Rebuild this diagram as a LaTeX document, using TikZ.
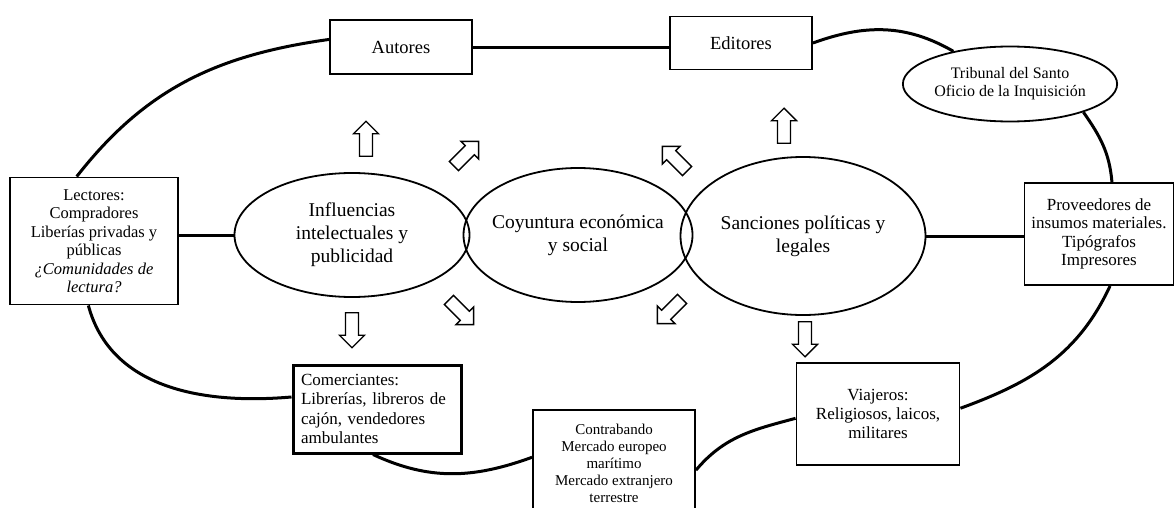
\documentclass[tikz,border=0pt]{standalone}
\usepackage{fontspec}
\setmainfont{Liberation Serif}
\usetikzlibrary{shapes.geometric,shapes.arrows}

\begin{document}
\begin{tikzpicture}[x=1pt,y=1pt,
        caja/.style={draw,line width=1.9pt,align=center,inner sep=2pt},
        ovalo/.style={draw,ellipse,line width=1.8pt,align=center,inner sep=0pt,font=\fontsize{19.5}{23}\selectfont},
        flecha/.style={draw,single arrow,line width=1.4pt,minimum height=35pt,inner sep=5.8pt,single arrow head extend=6pt,fill=white},
        enlace/.style={line width=3pt}]
    \useasboundingbox (0,0) rectangle (1175,-508);
    % central ovals
    \node[ovalo,minimum width=235,minimum height=124] (influencias) at (352,-235) {Influencias\\intelectuales y\\publicidad};
    \node[ovalo,inner sep=-5pt,minimum width=229,minimum height=134] (coyuntura) at (578,-235) {Coyuntura económica\\y social};
    \node[ovalo,minimum width=245,minimum height=158] (sanciones) at (803,-236) {Sanciones políticas y\\legales};
    % boxes round the ovals
    \node[caja,minimum width=142,minimum height=54,font=\fontsize{18.5}{21}\selectfont] (autores) at (401,-47) {Autores};
    \node[caja,minimum width=142,minimum height=53,font=\fontsize{18.5}{21}\selectfont] (editores) at (741,-43) {Editores};
    \node[draw,ellipse,line width=1.8pt,align=center,inner sep=0pt,minimum width=206,minimum height=75,font=\fontsize{16}{18}\selectfont] (tribunal) at (1010,-84) {Tribunal del Santo\\Oficio de la Inquisición};
    \node[caja,minimum width=149,minimum height=102,font=\fontsize{17}{18.5}\selectfont] (proveedores) at (1099,-234) {Proveedores de\\insumos materiales.\\Tipógrafos\\Impresores};
    \node[caja,minimum width=168,minimum height=127,font=\fontsize{16.5}{18.5}\selectfont] (lectores) at (94,-241) {Lectores:\\Compradores\\Liberías privadas y\\públicas\\\textit{¿Comunidades de}\\\textit{lectura?}};
    \node[caja,line width=3pt,align=left,text width=152,inner xsep=8pt,minimum height=88,font=\fontsize{17}{19.5}\selectfont] (comerciantes) at (377,-409) {Comerciantes:\\Librerías, libreros de\\cajón, vendedores\\ambulantes};
    \node[caja,minimum width=162,minimum height=106,font=\fontsize{15}{17}\selectfont] (contrabando) at (614,-463) {Contrabando\\Mercado europeo\\marítimo\\Mercado extranjero\\terrestre};
    \node[caja,minimum width=163,minimum height=102,font=\fontsize{17}{19}\selectfont] (viajeros) at (878,-414) {Viajeros:\\Religiosos, laicos,\\militares};
    % hollow arrows
    \node[flecha,rotate=90] (fsubeI) at (366,-142) {};
    \node[flecha,rotate=-90] (fbajaI) at (352,-327) {};
    \node[flecha,rotate=45] (fsubeC1) at (464,-156) {};
    \node[flecha,rotate=-45] (fbajaC1) at (459,-310) {};
    \node[flecha,rotate=135] (fsubeC2) at (677,-161) {};
    \node[flecha,rotate=-135] (fbajaC2) at (672,-309) {};
    \node[flecha,rotate=90] (fsubeD) at (784,-129) {};
    \node[flecha,rotate=-90] (fbajaD) at (805,-336) {};
    % connectors
    \draw[enlace] (lectores.east |- influencias.west) -- (influencias.west);
    \draw[enlace] (lectores.105) to[out=52,in=188] (autores.174);
    \draw[enlace] (autores.east |- 0,-48) -- (editores.west |- 0,-48);
    \draw[enlace] (editores.east) to[out=20,in=150] (tribunal.150);
    \draw[enlace] (tribunal.-21) to[out=-55,in=95] (proveedores.76);
    \draw[enlace] (sanciones.east) -- (proveedores.west |- sanciones.east);
    \draw[enlace] (proveedores.-78) to[out=-115,in=20] (viajeros.4);
    \draw[enlace] (contrabando.-5) to[out=50,in=195] (viajeros.183);
    \draw[enlace] (comerciantes.-95) to[out=-25,in=200] (contrabando.176);
    \draw[enlace] (lectores.-95) to[out=-75,in=185] (comerciantes.172);
\end{tikzpicture}
\end{document}
